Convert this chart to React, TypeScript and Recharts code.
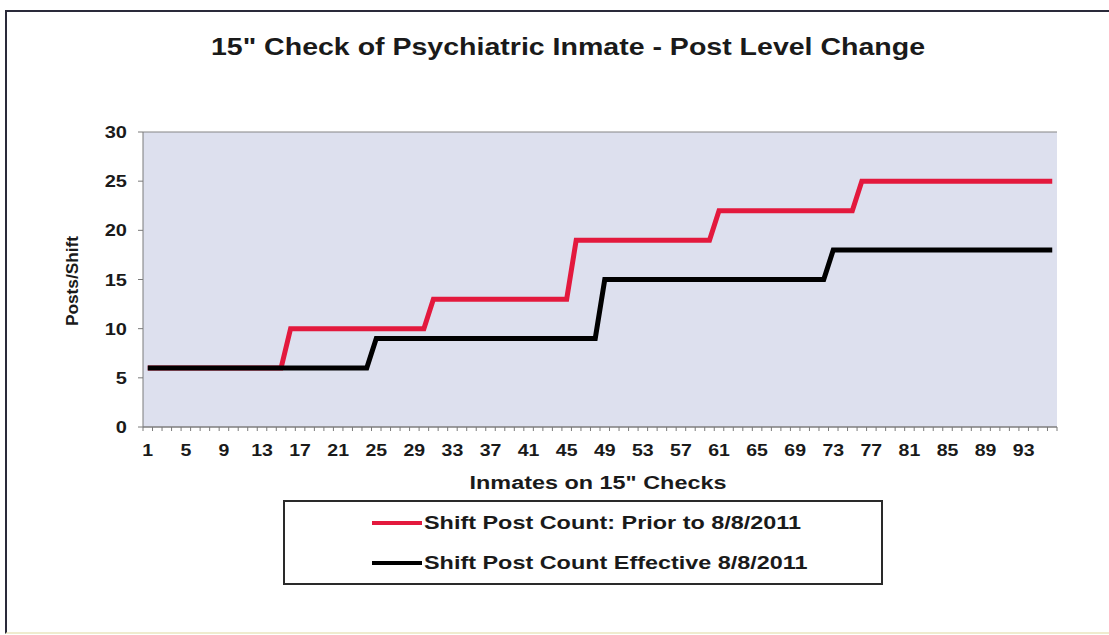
import React from 'react';
import { LineChart, Line, XAxis, YAxis, CartesianGrid } from 'recharts';

// inmates on 15" checks (categories 1..96)
const inmates = [
  1, 2, 3, 4, 5, 6, 7, 8, 9, 10, 11, 12, 13, 14, 15, 16,
  17, 18, 19, 20, 21, 22, 23, 24, 25, 26, 27, 28, 29, 30, 31, 32,
  33, 34, 35, 36, 37, 38, 39, 40, 41, 42, 43, 44, 45, 46, 47, 48,
  49, 50, 51, 52, 53, 54, 55, 56, 57, 58, 59, 60, 61, 62, 63, 64,
  65, 66, 67, 68, 69, 70, 71, 72, 73, 74, 75, 76, 77, 78, 79, 80,
  81, 82, 83, 84, 85, 86, 87, 88, 89, 90, 91, 92, 93, 94, 95, 96,
];

const priorCount = [
  6, 6, 6, 6, 6, 6, 6, 6, 6, 6, 6, 6, 6, 6, 6, 10,
  10, 10, 10, 10, 10, 10, 10, 10, 10, 10, 10, 10, 10, 10, 13, 13,
  13, 13, 13, 13, 13, 13, 13, 13, 13, 13, 13, 13, 13, 19, 19, 19,
  19, 19, 19, 19, 19, 19, 19, 19, 19, 19, 19, 19, 22, 22, 22, 22,
  22, 22, 22, 22, 22, 22, 22, 22, 22, 22, 22, 25, 25, 25, 25, 25,
  25, 25, 25, 25, 25, 25, 25, 25, 25, 25, 25, 25, 25, 25, 25, 25,
];

const effectiveCount = [
  6, 6, 6, 6, 6, 6, 6, 6, 6, 6, 6, 6, 6, 6, 6, 6,
  6, 6, 6, 6, 6, 6, 6, 6, 9, 9, 9, 9, 9, 9, 9, 9,
  9, 9, 9, 9, 9, 9, 9, 9, 9, 9, 9, 9, 9, 9, 9, 9,
  15, 15, 15, 15, 15, 15, 15, 15, 15, 15, 15, 15, 15, 15, 15, 15,
  15, 15, 15, 15, 15, 15, 15, 15, 18, 18, 18, 18, 18, 18, 18, 18,
  18, 18, 18, 18, 18, 18, 18, 18, 18, 18, 18, 18, 18, 18, 18, 18,
];

const yTicks = [0, 5, 10, 15, 20, 25, 30];
const seriesNames = ['Shift Post Count: Prior to 8/8/2011', 'Shift Post Count Effective 8/8/2011'];
const seriesColors = ['#e3193d', '#000000'];

const data = inmates.map((n, i) => ({
  n: String(n),
  prior: priorCount[i],
  effective: effectiveCount[i],
}));

const FONT = '"Liberation Sans", Arial, sans-serif';
const TEXT = '#1a1a1a';
const W = 1109;
const H = 635;
const PLOT_LEFT = 143;
const PLOT_RIGHT = 1057;
const PLOT_TOP = 132;
const PLOT_BOTTOM = 427;
const BW = (PLOT_RIGHT - PLOT_LEFT) / inmates.length;

const XTick = (props: any) => {
  const { x, y, index, payload } = props;
  const left = x - BW / 2;
  return (
    <g>
      <line x1={left} x2={left} y1={y} y2={y + 4} stroke="#7a7a7a" strokeWidth={1} />
      {index === inmates.length - 1 && (
        <line x1={x + BW / 2} x2={x + BW / 2} y1={y} y2={y + 4} stroke="#7a7a7a" strokeWidth={1} />
      )}
      {index % 4 === 0 && (
        <text
          transform={`translate(${x},${y + 29}) scale(1.22,1)`}
          textAnchor="middle"
          fontFamily={FONT}
          fontWeight="bold"
          fontSize={16}
          fill={TEXT}
        >
          {payload.value}
        </text>
      )}
    </g>
  );
};

const YTick = (props: any) => {
  const { x, y, payload } = props;
  return (
    <text
      transform={`translate(${x},${y + 6}) scale(1.25,1)`}
      textAnchor="end"
      fontFamily={FONT}
      fontWeight="bold"
      fontSize={16}
      fill={TEXT}
    >
      {payload.value}
    </text>
  );
};

export default function App() {
  return (
    <div style={{ position: 'absolute', left: 0, top: 0, width: W, height: H, overflow: 'hidden', background: '#fff', fontFamily: FONT }}>
      <div style={{ position: 'absolute', left: 5, top: 10, width: 1104, height: 620, borderLeft: '2px solid #2a2a3a', borderTop: '2px solid #2a2a3a', borderBottom: '2px solid #efeccf' }} />
      <div style={{ position: 'absolute', left: 568, top: 47, transform: 'translate(-50%, -50%) scaleX(1.24)', fontWeight: 'bold', fontSize: 23, color: TEXT, whiteSpace: 'nowrap' }}>
        15" Check of Psychiatric Inmate - Post Level Change
      </div>
      <LineChart
        width={W}
        height={H}
        data={data}
        margin={{ top: PLOT_TOP, right: W - PLOT_RIGHT, bottom: H - PLOT_BOTTOM - 30, left: 0 }}
        style={{ position: 'absolute', left: 0, top: 0 }}
      >
        <CartesianGrid vertical={false} stroke="#858585" fill="#dde0ee" />
        <XAxis
          dataKey="n"
          scale="band"
          interval={0}
          tickSize={0}
          tickMargin={0}
          height={30}
          tick={<XTick />}
          axisLine={{ stroke: '#7a7a7a' }}
        />
        <YAxis
          yAxisId="left"
          domain={[0, 30]}
          ticks={yTicks}
          width={PLOT_LEFT}
          tickSize={5}
          tickMargin={11}
          axisLine={{ stroke: '#7a7a7a' }}
          tickLine={{ stroke: '#7a7a7a' }}
          tick={<YTick />}
        />
        <YAxis yAxisId="right" orientation="right" width={0} tick={false} tickLine={false} axisLine={{ stroke: '#8a8a8a' }} domain={[0, 30]} />
        <Line yAxisId="left" type="linear" dataKey="prior" stroke={seriesColors[0]} strokeWidth={5} dot={false} isAnimationActive={false} />
        <Line yAxisId="left" type="linear" dataKey="effective" stroke={seriesColors[1]} strokeWidth={5} dot={false} isAnimationActive={false} />
      </LineChart>
      <div style={{ position: 'absolute', left: 73, top: 281, transform: 'translate(-50%, -50%) rotate(-90deg) scaleX(1.08)', fontWeight: 'bold', fontSize: 16, color: TEXT, whiteSpace: 'nowrap' }}>
        Posts/Shift
      </div>
      <div style={{ position: 'absolute', left: 598, top: 483, transform: 'translate(-50%, -50%) scaleX(1.3)', fontWeight: 'bold', fontSize: 18, color: TEXT, whiteSpace: 'nowrap' }}>
        Inmates on 15" Checks
      </div>
      <div style={{ position: 'absolute', left: 283, top: 500, width: 596, height: 81, border: '2px solid #2a2a2a', background: '#fff' }}>
        {seriesNames.map((name, i) => (
          <div key={name} style={{ position: 'absolute', left: 87, top: i === 0 ? 8 : 48, height: 26, display: 'flex', alignItems: 'center' }}>
            <div style={{ width: 50, height: 4, background: seriesColors[i] }} />
            <span style={{ marginLeft: 2, fontWeight: 'bold', fontSize: 18, color: TEXT, whiteSpace: 'nowrap', display: 'inline-block', transform: 'scaleX(1.3)', transformOrigin: 'left center' }}>{name}</span>
          </div>
        ))}
      </div>
    </div>
  );
}
